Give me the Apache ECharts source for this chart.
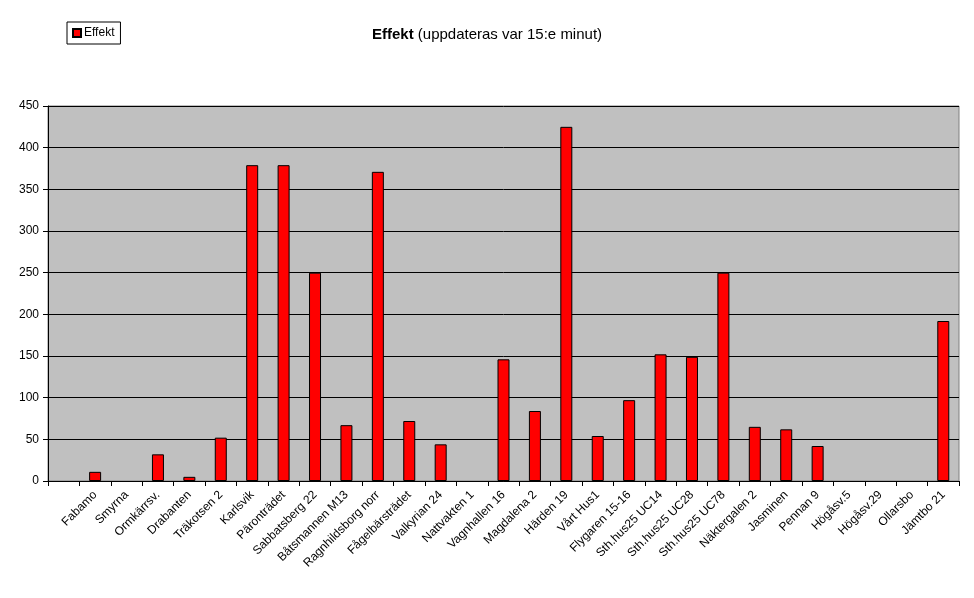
<!DOCTYPE html>
<html>
<head>
<meta charset="utf-8">
<script src="https://cdn.jsdelivr.net/npm/echarts@6/dist/echarts.min.js"></script>
<style>
html,body{margin:0;padding:0;background:#fff;}
#c{width:974px;height:598px;}
</style>
</head>
<body>
<div id="c"></div>
<script>
var categories = ["", "Fabamo", "Smyrna", "Ormkärrsv.", "Drabanten", "Träkotsen 2", "Karlsvik", "Päronträdet", "Sabbatsberg 22", "Båtsmannen M13", "Ragnhildsborg norr", "Fågelbärsträdet", "Valkyrian 24", "Nattvakten 1", "Vagnhallen 16", "Magdalena 2", "Härden 19", "Vårt Hus1", "Flygaren 15-16", "Sth.hus25 UC14", "Sth.hus25 UC28", "Sth.hus25 UC78", "Näktergalen 2", "Jasminen", "Pennan 9", "Högåsv.5", "Högåsv.29", "Ollarsbo", "Jämtbo 21"];
var effekt = [0, 11, 0, 32, 5, 52, 379, 379, 250, 67, 371, 72, 44, 0, 146, 84, 425, 54, 97, 152, 149, 250, 65, 62, 42, 0, 0, 0, 192];
var seriesName = "Effekt";
var yMin = 0, yMax = 450, yStep = 50;

var FONT = "'Liberation Sans', Arial, sans-serif";
var barData = effekt.map(function (v) {
  return v === 0 ? { value: v, itemStyle: { borderWidth: 0, color: 'rgba(0,0,0,0)' } } : v;
});
var chart = echarts.init(document.getElementById('c'));
chart.setOption({
  animation: false,
  backgroundColor: '#ffffff',
  title: {
    text: '{b|Effekt} (uppdateras var 15:e minut)',
    left: 'center',
    top: 22,
    textStyle: {
      fontFamily: FONT, fontSize: 15, fontWeight: 'normal', color: '#000',
      rich: { b: { fontFamily: FONT, fontSize: 15, fontWeight: 'bold', color: '#000' } }
    }
  },
  legend: {
    data: [seriesName],
    left: 67,
    top: 22,
    icon: 'rect',
    itemWidth: 8,
    itemHeight: 8,
    itemGap: 3,
    padding: [5, 6, 5, 5],
    borderColor: '#000',
    borderWidth: 1,
    borderRadius: 0,
    textStyle: { fontFamily: FONT, fontSize: 12, color: '#000', padding: [1, 0, 0, -2] }
  },
  grid: {
    left: 48, right: 15, top: 106, bottom: 117,
    show: true,
    backgroundColor: '#C0C0C0',
    borderColor: '#808080',
    borderWidth: 1
  },
  xAxis: {
    type: 'category',
    data: categories,
    axisLine: { show: true, lineStyle: { color: '#000', width: 1 } },
    axisTick: { show: true, interval: 0, length: 5, lineStyle: { color: '#000' } },
    axisLabel: {
      interval: 0, rotate: 45, margin: 12,
      fontFamily: FONT, fontSize: 12, color: '#000'
    },
    splitLine: { show: false }
  },
  yAxis: {
    type: 'value',
    min: yMin, max: yMax, interval: yStep,
    axisLine: { show: true, lineStyle: { color: '#000', width: 1 } },
    axisTick: { show: true, length: 5, lineStyle: { color: '#000' } },
    axisLabel: { fontFamily: FONT, fontSize: 12, color: '#000', margin: 9 },
    splitLine: { show: true, lineStyle: { color: '#000', width: 1 } }
  },
  series: [{
    name: seriesName,
    type: 'bar',
    data: barData,
    barWidth: 12,
    itemStyle: { color: '#FF0000', borderColor: '#000', borderWidth: 1 }
  }]
});
</script>
</body>
</html>
